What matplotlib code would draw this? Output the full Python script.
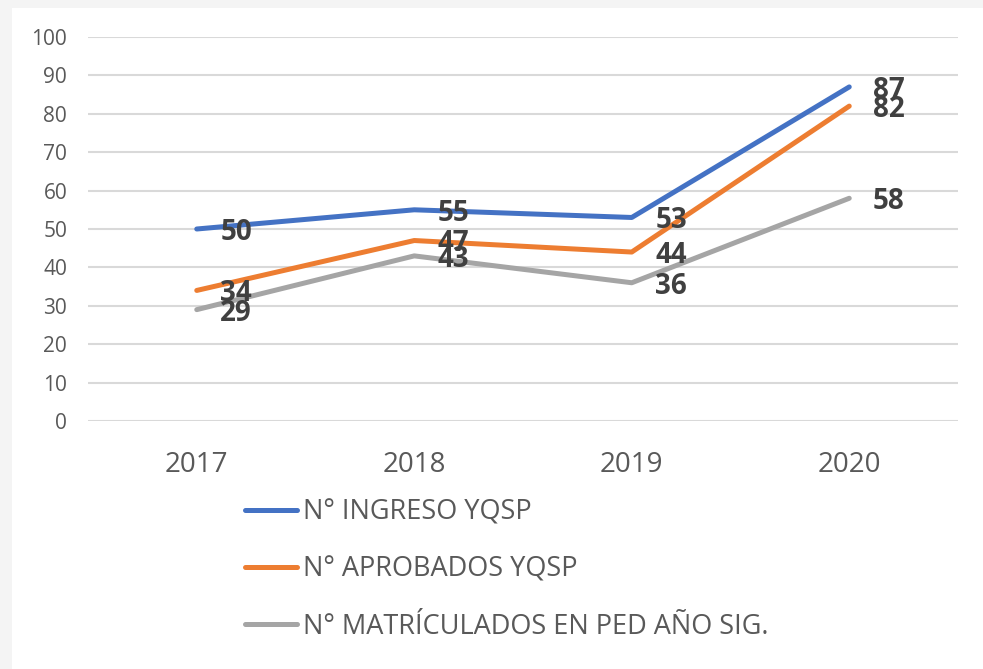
import matplotlib
matplotlib.use("Agg")
import matplotlib.pyplot as plt
from matplotlib.lines import Line2D
from matplotlib.patches import Rectangle

years = ["2017", "2018", "2019", "2020"]
ingreso = [50, 55, 53, 87]
aprobados = [34, 47, 44, 82]
matriculados = [29, 43, 36, 58]
series_names = ["N° INGRESO YQSP", "N° APROBADOS YQSP", "N° MATRÍCULADOS EN PED AÑO SIG."]
colors = ["#4472C4", "#ED7D31", "#A5A5A5"]
yticks = list(range(0, 101, 10))

plt.rcParams['font.family'] = ['Open Sans', 'DejaVu Sans']

W, H = 983, 669
fig = plt.figure(figsize=(W/100, H/100), dpi=100)
fig.patch.set_facecolor("#f4f4f4")
fig.patches.append(Rectangle((12/W, 0), 1 - 12/W, 1 - 8/H, transform=fig.transFigure,
                             facecolor="white", edgecolor="none", zorder=-10))

left, right = 88/W, 958/W
bottom, top = 1 - 421/H, 1 - 37/H
ax = fig.add_axes([left, bottom, right - left, top - bottom])
ax.set_facecolor("none")
ax.set_xlim(-0.5, 3.5)
ax.set_ylim(0, 100)
for s in ax.spines.values():
    s.set_visible(False)
ax.set_yticks(yticks)
ax.grid(axis="y", color="#D9D9D9", linewidth=1.5)
ax.set_axisbelow(True)
ax.tick_params(axis="both", length=0, colors="#595959")
ax.tick_params(axis="y", labelsize=15, pad=15)
ax.tick_params(axis="x", labelsize=20, pad=21.5)
xs = list(range(len(years)))
ax.set_xticks(xs)
ax.set_xticklabels(years)

handles = []
for vals, c, name in zip([ingreso, aprobados, matriculados], colors, series_names):
    ax.plot(xs, vals, color=c, linewidth=3.6, solid_capstyle="round", clip_on=False, zorder=3)
    for x, v in zip(xs, vals):
        ax.annotate(str(v), (x, v), xytext=(17, -2.5), textcoords="offset points",
                    ha="left", va="center", fontsize=20, fontweight="bold",
                    color="#404040", zorder=5)
    handles.append(Line2D([], [], color=c, linewidth=3.6, solid_capstyle="round"))

fig.legend(handles, series_names, loc="upper left",
           bbox_to_anchor=(221/W, 1 - 474/H), frameon=False,
           fontsize=19.5, labelcolor="#595959", handlelength=1.9,
           handletextpad=0.22, labelspacing=1.08)

fig.savefig("out.png", dpi=100)
